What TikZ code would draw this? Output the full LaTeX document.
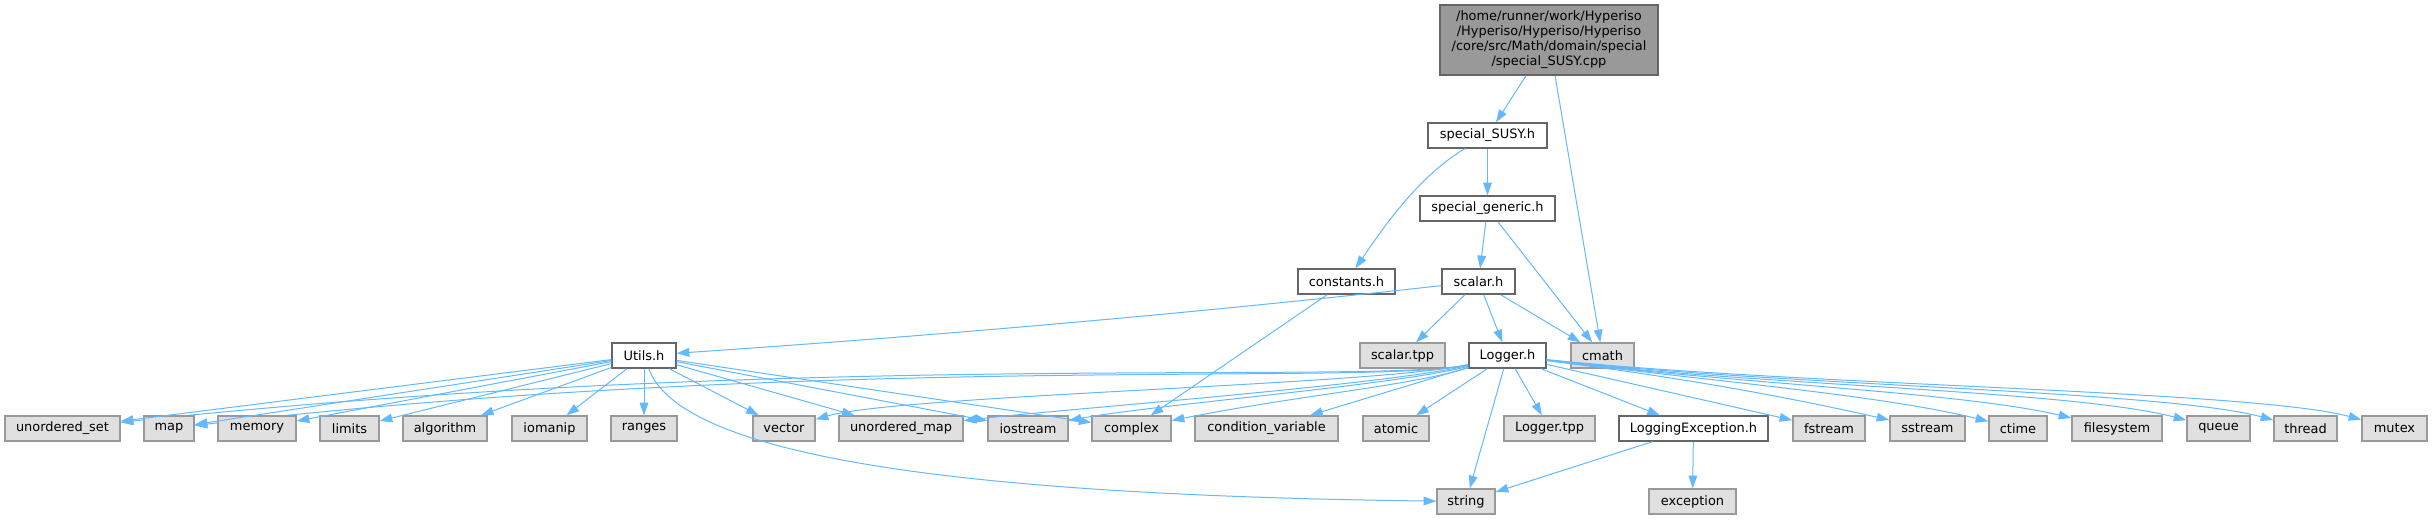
\documentclass[tikz,border=0pt]{standalone}
\usepackage{fontspec}
\setmainfont{DejaVu Sans}
\usetikzlibrary{arrows.meta,backgrounds}

\definecolor{edgeblue}{HTML}{63B8FF}
\definecolor{sysfill}{HTML}{E0E0E0}
\definecolor{sysline}{HTML}{999999}
\definecolor{locline}{HTML}{666666}
\definecolor{rootfill}{HTML}{999999}

\tikzset{every picture/.style={line width=0.75pt}}
\tikzset{
  hdr/.style={draw, line width=1pt, inner sep=0pt, minimum height=18.75pt,
    minimum width=#1*0.75pt, font=\fontsize{9.7}{11.3}\selectfont},
  loc/.style={hdr=#1, draw=locline, fill=white},
  sys/.style={hdr=#1, draw=sysline, fill=sysfill},
  root/.style={hdr=#1, draw=locline, fill=rootfill, minimum height=52.5pt, align=center},
  dep/.style={draw=edgeblue, line width=0.75pt, -{Triangle[length=9.5pt,width=6.5pt]}}
}

\begin{document}
\begin{tikzpicture}[x=0.75pt,y=0.75pt,yscale=-1,xscale=1]
	\useasboundingbox (0,0) rectangle (2432,520);

	% top of the graph
	\node[root=218] (cpp) at (1549,40) {/home/runner/work/Hyperiso\\/Hyperiso/Hyperiso/Hyperiso\\/core/src/Math/domain/special\\/special\_SUSY.cpp};
	\node[loc=119] (susy) at (1487.5,135.5) {special\_SUSY.h};
	\node[loc=135] (generic) at (1487.5,208.5) {special\_generic.h};
	\node[loc=97] (constants) at (1346.5,281.5) {constants.h};
	\node[loc=73] (scalar) at (1478.5,281.5) {scalar.h};
	\node[sys=85] (scalartpp) at (1402.5,355.5) {scalar.tpp};
	\node[loc=77] (logger) at (1507.5,355.5) {Logger.h};
	\node[sys=63] (cmath) at (1602.5,355.5) {cmath};
	\node[loc=64] (utils) at (644,355.5) {Utils.h};

	% bottom row
	\node[sys=115] (uset) at (62.5,428.5) {unordered\_set};
	\node[sys=50] (map) at (169,428.5) {map};
	\node[sys=78] (memory) at (257,428.5) {memory};
	\node[sys=59] (limits) at (349.5,428.5) {limits};
	\node[sys=84] (algorithm) at (445,428.5) {algorithm};
	\node[sys=75] (iomanip) at (549.5,428.5) {iomanip};
	\node[sys=66] (ranges) at (644,428.5) {ranges};
	\node[sys=62] (vector) at (784,428.5) {vector};
	\node[sys=124] (umap) at (901,428.5) {unordered\_map};
	\node[sys=80] (iostream) at (1028,428.5) {iostream};
	\node[sys=79] (complex) at (1131.5,428.5) {complex};
	\node[sys=143] (condvar) at (1266.5,428.5) {condition\_variable};
	\node[sys=66] (atomic) at (1396,428.5) {atomic};
	\node[sys=91] (loggertpp) at (1549.5,428.5) {Logger.tpp};
	\node[loc=149] (logexc) at (1693.5,428.5) {LoggingException.h};
	\node[sys=72] (fstream) at (1829,428.5) {fstream};
	\node[sys=75] (sstream) at (1927.5,428.5) {sstream};
	\node[sys=58] (ctime) at (2018,428.5) {ctime};
	\node[sys=90] (filesystem) at (2117,428.5) {filesystem};
	\node[sys=63] (queue) at (2218.5,428.5) {queue};
	\node[sys=63] (thread) at (2305.5,428.5) {thread};
	\node[sys=65] (mutex) at (2394.5,428.5) {mutex};
	\node[sys=58] (string) at (1466,501.5) {string};
	\node[sys=87] (exception) at (1692.5,501.5) {exception};

	% upper edges
	\draw[dep] (cpp) -- (susy);
	\draw[dep] (cpp) -- (cmath);
	\draw[dep] (susy) -- (generic);
	\draw[dep] (susy) .. controls (1420,175) and (1385,225) .. (constants);
	\draw[dep] (generic) -- (scalar);
	\draw[dep] (generic) -- (cmath);
	\draw[dep] (constants) -- (complex);
	\draw[dep] (scalar) .. controls (1150,318) and (900,338) .. (utils);
	\draw[dep] (scalar) -- (scalartpp);
	\draw[dep] (scalar) -- (logger);
	\draw[dep] (scalar) -- (cmath);

	% Utils.h
	\foreach \n in {uset,map,memory,limits,algorithm,iomanip,ranges,vector,umap,iostream,complex}
		\draw[dep] (utils) -- (\n);
	\draw[dep] (utils) .. controls (680,455) and (950,495) .. (string);

	% Logger.h, to the left (two of them run behind Utils.h)
	\begin{scope}[on background layer]
		\draw[dep] (logger) .. controls (1380,385) and (800,350) .. (uset);
		\draw[dep] (logger) .. controls (1380,386) and (820,353) .. (map);
	\end{scope}
	\draw[dep] (logger) .. controls (1380,385) and (900,395) .. (vector);
	\draw[dep] (logger) .. controls (1390,385) and (1050,410) .. (umap);
	\draw[dep] (logger) .. controls (1400,385) and (1150,405) .. (iostream);
	\draw[dep] (logger) .. controls (1410,386) and (1300,395) .. (complex);
	\foreach \n in {condvar,atomic,loggertpp,string,logexc,fstream}
		\draw[dep] (logger) -- (\n);

	% Logger.h, to the right
	\draw[dep] (logger) .. controls (1700,380) and (1800,400) .. (sstream);
	\draw[dep] (logger) .. controls (1720,382) and (1880,395) .. (ctime);
	\draw[dep] (logger) .. controls (1740,384) and (1960,392) .. (filesystem);
	\draw[dep] (logger) .. controls (1760,386) and (2070,390) .. (queue);
	\draw[dep] (logger) .. controls (1780,386) and (2160,390) .. (thread);
	\draw[dep] (logger) .. controls (1800,386) and (2250,390) .. (mutex);

	\draw[dep] (logexc) -- (exception);
	\draw[dep] (logexc) -- (string);
\end{tikzpicture}
\end{document}
